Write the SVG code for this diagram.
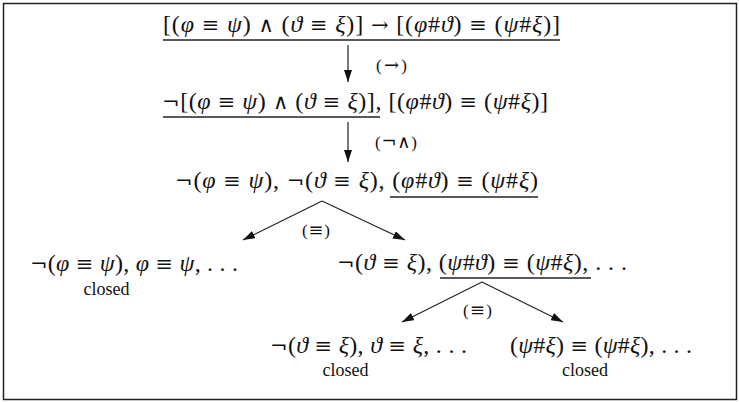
<svg xmlns="http://www.w3.org/2000/svg" width="739" height="402" viewBox="0 0 739 402">
<style>
.i{font-style:italic}
.o{font-family:'DejaVu Serif',serif;font-size:21px}
.p{font-family:'DejaVu Serif',serif;font-size:18px}
.u{stroke:#222;stroke-width:1.3}
.e{stroke:#222;stroke-width:1.2;fill:none}
</style>
<defs>
<marker id="a" viewBox="0 0 12 8" refX="12" refY="4" markerWidth="12" markerHeight="8" markerUnits="userSpaceOnUse" orient="auto">
<path d="M0,0 L12,4 L0,8 z" fill="#111"/>
</marker>
</defs>
<rect x="3.5" y="3.5" width="733" height="396" fill="#fff" stroke="#222" stroke-width="1.5"/>
<g font-family="Liberation Serif, Times New Roman, serif" font-size="24" fill="#111">
<g id="n1">
<text x="163" y="32" textLength="397" lengthAdjust="spacing">[(<tspan class="i">φ</tspan> <tspan class="o">≡</tspan> <tspan class="i">ψ</tspan>) <tspan class="o">∧</tspan> (<tspan class="i">ϑ</tspan> <tspan class="o">≡</tspan> <tspan class="i">ξ</tspan>)] <tspan class="o">→</tspan> [(<tspan class="i">φ</tspan>#<tspan class="i">ϑ</tspan>) <tspan class="o">≡</tspan> (<tspan class="i">ψ</tspan>#<tspan class="i">ξ</tspan>)]</text>
<line class="u" x1="163" y1="40" x2="560" y2="40"/>
</g>
<g id="n2">
<text x="162" y="109" textLength="386" lengthAdjust="spacing"><tspan class="o">¬</tspan>[(<tspan class="i">φ</tspan> <tspan class="o">≡</tspan> <tspan class="i">ψ</tspan>) <tspan class="o">∧</tspan> (<tspan class="i">ϑ</tspan> <tspan class="o">≡</tspan> <tspan class="i">ξ</tspan>)], [(<tspan class="i">φ</tspan>#<tspan class="i">ϑ</tspan>) <tspan class="o">≡</tspan> (<tspan class="i">ψ</tspan>#<tspan class="i">ξ</tspan>)]</text>
<line class="u" x1="163" y1="117" x2="380" y2="117"/>
</g>
<g id="n3">
<text x="175" y="188" textLength="363" lengthAdjust="spacing"><tspan class="o">¬</tspan>(<tspan class="i">φ</tspan> <tspan class="o">≡</tspan> <tspan class="i">ψ</tspan>), <tspan class="o">¬</tspan>(<tspan class="i">ϑ</tspan> <tspan class="o">≡</tspan> <tspan class="i">ξ</tspan>), (<tspan class="i">φ</tspan>#<tspan class="i">ϑ</tspan>) <tspan class="o">≡</tspan> (<tspan class="i">ψ</tspan>#<tspan class="i">ξ</tspan>)</text>
<line class="u" x1="390" y1="197" x2="538" y2="197"/>
</g>
<g id="n4">
<text x="30" y="271" textLength="208" lengthAdjust="spacing"><tspan class="o">¬</tspan>(<tspan class="i">φ</tspan> <tspan class="o">≡</tspan> <tspan class="i">ψ</tspan>), <tspan class="i">φ</tspan> <tspan class="o">≡</tspan> <tspan class="i">ψ</tspan>, . . .</text>
<text x="106.5" y="295" font-size="18" text-anchor="middle">closed</text>
</g>
<g id="n5">
<text x="337" y="270" textLength="290" lengthAdjust="spacing"><tspan class="o">¬</tspan>(<tspan class="i">ϑ</tspan> <tspan class="o">≡</tspan> <tspan class="i">ξ</tspan>), (<tspan class="i">ψ</tspan>#<tspan class="i">ϑ</tspan>) <tspan class="o">≡</tspan> (<tspan class="i">ψ</tspan>#<tspan class="i">ξ</tspan>), . . .</text>
<line class="u" x1="440" y1="278" x2="591" y2="278"/>
</g>
<g id="n6">
<text x="270" y="353" textLength="197" lengthAdjust="spacing"><tspan class="o">¬</tspan>(<tspan class="i">ϑ</tspan> <tspan class="o">≡</tspan> <tspan class="i">ξ</tspan>), <tspan class="i">ϑ</tspan> <tspan class="o">≡</tspan> <tspan class="i">ξ</tspan>, . . .</text>
<text x="345.5" y="376" font-size="18" text-anchor="middle">closed</text>
</g>
<g id="n7">
<text x="510" y="353" textLength="182" lengthAdjust="spacing">(<tspan class="i">ψ</tspan>#<tspan class="i">ξ</tspan>) <tspan class="o">≡</tspan> (<tspan class="i">ψ</tspan>#<tspan class="i">ξ</tspan>), . . .</text>
<text x="585" y="376" font-size="18" text-anchor="middle">closed</text>
</g>
<g id="connectors" font-size="17">
<line class="e" x1="348" y1="45" x2="348" y2="82" marker-end="url(#a)"/>
<text x="376" y="71" textLength="31" lengthAdjust="spacing">(<tspan class="p">→</tspan>)</text>
<line class="e" x1="348" y1="122" x2="348" y2="162" marker-end="url(#a)"/>
<text x="375" y="148" textLength="42" lengthAdjust="spacing">(<tspan class="p">¬∧</tspan>)</text>
<line class="e" x1="322" y1="201" x2="243" y2="240" marker-end="url(#a)"/>
<line class="e" x1="322" y1="201" x2="405" y2="240" marker-end="url(#a)"/>
<text x="302" y="236" textLength="28" lengthAdjust="spacing">(<tspan class="p">≡</tspan>)</text>
<line class="e" x1="482" y1="282" x2="402" y2="322" marker-end="url(#a)"/>
<line class="e" x1="482" y1="282" x2="563" y2="322" marker-end="url(#a)"/>
<text x="463" y="316" textLength="29" lengthAdjust="spacing">(<tspan class="p">≡</tspan>)</text>
</g>
</g>
</svg>
